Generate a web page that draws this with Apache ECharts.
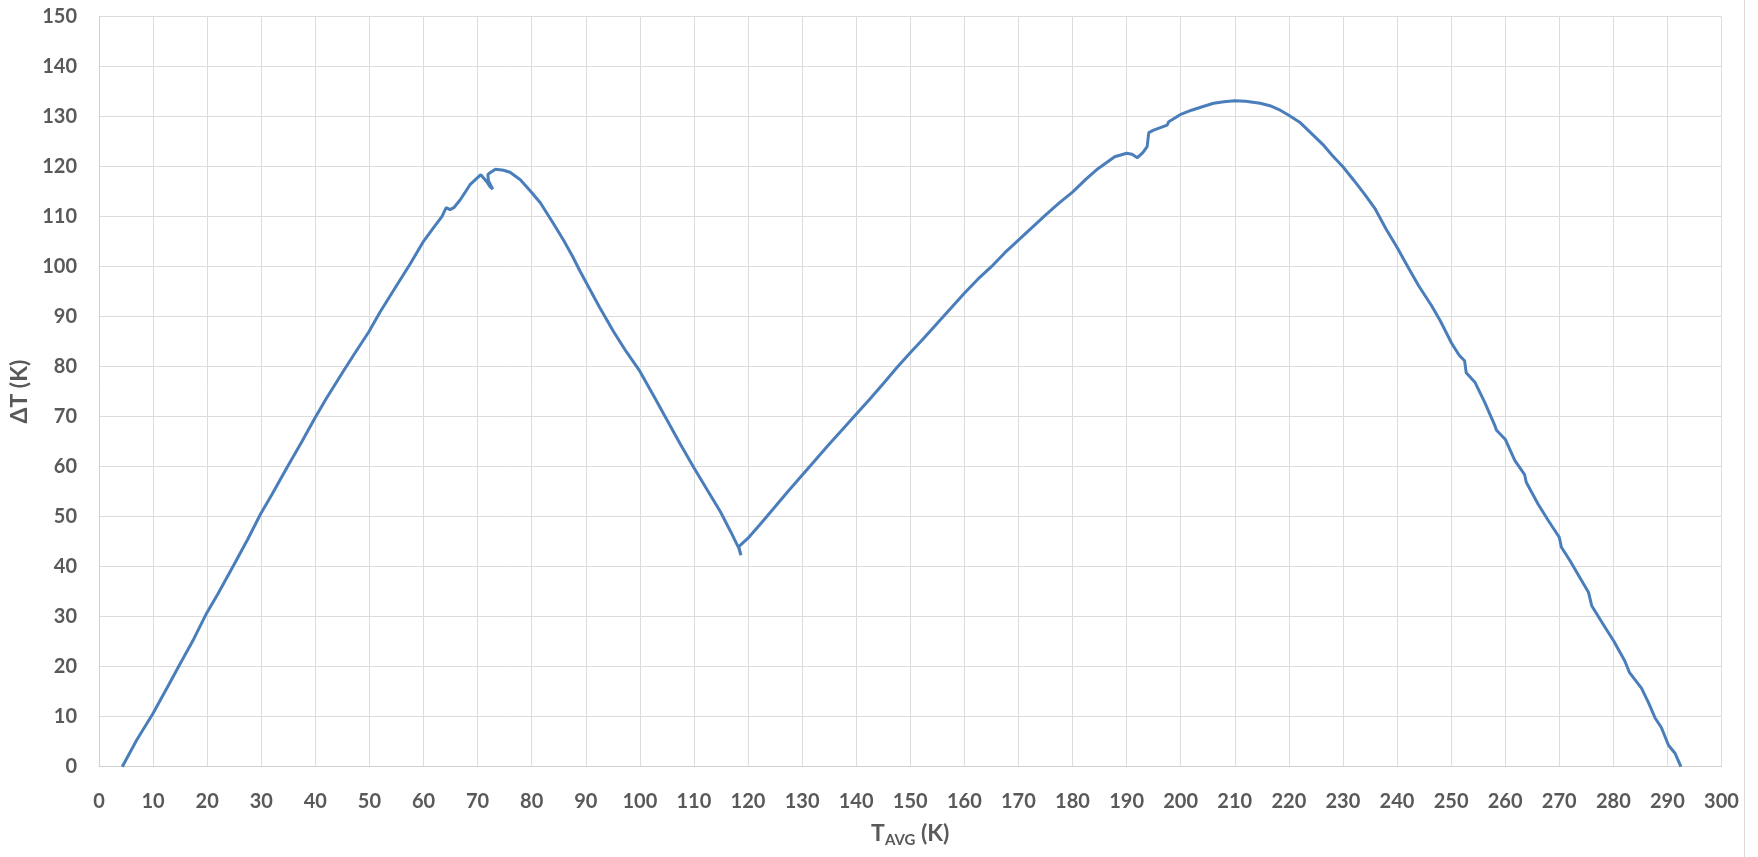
<!DOCTYPE html>
<html>
<head>
<meta charset="utf-8">
<script src="https://cdn.jsdelivr.net/npm/echarts@6/dist/echarts.min.js"></script>
<style>
html,body{margin:0;padding:0;background:#fff;}
#chart{width:1758px;height:857px;}
</style>
</head>
<body>
<div id="chart"></div>
<script>
// T_AVG (K)
const tAvg = [4.3,7,9.9,13,15,17.5,19.9,22,25,27.5,29.9,32,35,37.5,39.9,42,43.5,45,47,49.9,52,55,57.5,59.9,62,63.4,64.2,64.9,65.6,66.8,68.6,70.6,71.7,72.3,72.8,72.0,71.9,72.3,73.3,74.8,76,77.9,79.8,81.6,84.1,85.9,87.5,89,90,92.5,95.1,97.5,100,102.5,105,107.5,110,112.5,114.9,116.8,118.3,118.7,118.3,120,122.5,125,127.5,130,132.5,135,137.5,140,142.5,145,147.5,150,152.5,155,157.5,160,162.5,165,167.5,170,172.5,175,177.5,180,182.5,184.7,187.8,190,191,192,193,193.8,194.1,195,197.5,197.8,198,199.9,202,204,206.1,208,210,212,214.7,216.5,218.4,220,222,224.5,226.5,228,230,232,234,236,238,240,242,244,246.4,248,250.1,251.5,252.5,252.8,254.4,256.2,258.1,258.4,260,261.8,263.6,263.9,266.1,268,270,270.4,272,273.5,275.4,276,278,280.1,282.1,283,285.2,286.5,287.7,288.9,290.2,291.4,292.5];
// ΔT (K)
const deltaT = [0,5.4,10.5,16.6,20.6,25.5,30.7,34.6,40.5,45.5,50.6,54.5,60.3,65,69.7,73.6,76.2,78.8,82.2,87,91,96.2,100.5,104.9,108,110,111.8,111.4,111.8,113.4,116.4,118.4,117,116,115.5,117.2,118.4,118.8,119.5,119.3,118.9,117.4,115.1,112.8,108.5,105.3,102.2,99,97,92,87.1,83,79.1,74.3,69.4,64.5,59.8,55.3,51,47,43.7,42.3,44,45.7,48.8,52,55.2,58.3,61.4,64.5,67.5,70.5,73.5,76.6,79.8,82.8,85.7,88.7,91.7,94.7,97.5,100,102.8,105.3,107.8,110.3,112.7,114.9,117.5,119.6,122,122.7,122.5,121.8,122.8,124,126.8,127.3,128.3,129,128.7,130.4,131.3,132,132.7,133,133.2,133.1,132.7,132.2,131.3,130.3,128.9,126.3,124.2,122.3,120,117.3,114.5,111.5,107.5,103.9,100,96.2,92.2,89.2,84.7,82.3,81.2,78.8,76.9,72.9,68.2,67.3,65.5,61.2,58.4,56.9,52.5,49.2,45.9,43.9,41.2,38.4,34.9,32.2,28.7,25.1,21.2,18.8,15.7,12.8,9.8,7.8,4.3,2.7,0];
const xTicks = {min:0, max:300, interval:10};
const yTicks = {min:0, max:150, interval:10};

const data = tAvg.map((t,i)=>[t, deltaT[i]]);
const labelColor = '#595959';
const font = 'Lato, "Open Sans", sans-serif';

const chart = echarts.init(document.getElementById('chart'));
chart.setOption({
  animation:false,
  backgroundColor:'#fff',
  grid:{left:98.5, right:36.5, top:16.7, bottom:90.3, containLabel:false},
  xAxis:{
    type:'value', min:xTicks.min, max:xTicks.max, interval:xTicks.interval,
    name:'{t|T}{s|AVG}{t| (K)}',
    nameLocation:'middle', nameGap:52,
    nameTextStyle:{
      rich:{
        t:{fontFamily:font, fontWeight:'bold', fontSize:23, color:labelColor, lineHeight:30},
        s:{fontFamily:font, fontWeight:'bold', fontSize:15, color:labelColor, lineHeight:15, padding:[13,0,0,0]}
      }
    },
    axisLine:{show:true, lineStyle:{color:'#d0d0d0', width:1}},
    axisTick:{show:false},
    axisLabel:{fontFamily:font, fontWeight:'bold', fontSize:20, color:labelColor, margin:25},
    splitLine:{show:true, lineStyle:{color:'#dcdcdc', width:1}}
  },
  yAxis:{
    type:'value', min:yTicks.min, max:yTicks.max, interval:yTicks.interval,
    name:'ΔT (K)', nameLocation:'middle', nameGap:68, nameRotate:90,
    nameTextStyle:{fontFamily:font, fontWeight:'bold', fontSize:23, color:labelColor},
    axisLine:{show:true, lineStyle:{color:'#d0d0d0', width:1}},
    axisTick:{show:false},
    axisLabel:{fontFamily:font, fontWeight:'bold', fontSize:20, color:labelColor, margin:22},
    splitLine:{show:true, lineStyle:{color:'#dcdcdc', width:1}}
  },
  series:[{
    type:'line', data:data, showSymbol:false, symbol:'none',
    lineStyle:{color:'#4a7ebb', width:3}, smooth:false
  }],
  graphic:[{
    type:'line', shape:{x1:1744.5, y1:0, x2:1744.5, y2:857},
    style:{stroke:'#d9d9d9', lineWidth:1}, silent:true
  }]
});
</script>
</body>
</html>
